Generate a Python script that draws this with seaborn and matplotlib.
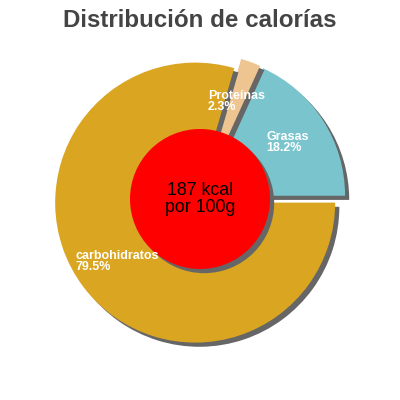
import matplotlib
matplotlib.use("Agg")
import matplotlib.pyplot as plt
import matplotlib.patheffects as pe
from matplotlib.patches import Circle
import seaborn as sns

categories = ["Grasas", "Proteínas", "carbohidratos"]
values = [18.2, 2.3, 79.5]
colors = ["#7AC5CD", "#EEC591", "#DAA520"]
title = "Distribución de calorías"
center_label = "187 kcal\npor 100g"

sns.set_theme(style="white")
plt.rcParams["font.family"] = ["Liberation Sans", "DejaVu Sans"]

fig = plt.figure(figsize=(4, 4), dpi=100)
ax = fig.add_axes([0, 0, 1, 1])
ax.set_aspect("equal")
ax.axis("off")

shadow = [pe.SimplePatchShadow(offset=(3, -3), shadow_rgbFace="#666666", alpha=1.0), pe.Normal()]

labels = [f"{c}\n{v}%" for c, v in zip(categories, values)]
wedges, texts = ax.pie(values, labels=labels, colors=colors, startangle=0,
                       counterclock=True, explode=[0.043] * 3, radius=1.0,
                       labeldistance=0.7, wedgeprops=dict(linewidth=0))
for w in wedges:
    w.set_path_effects(shadow)
for t in texts:
    t.set_ha("center")
    t.set_va("center")
    t.set_multialignment("left")
    t.set_color("white")
    t.set_fontsize(9)
    t.set_fontweight("bold")
    t.set_linespacing(0.95)
    t.set_zorder(5)

c = Circle((0, 0), 0.5, facecolor="#FF0000", edgecolor="none", zorder=4)
c.set_path_effects(shadow)
ax.add_patch(c)
ax.text(0, 0, center_label, ha="center", va="center", fontsize=12.8,
        color="black", zorder=6, linespacing=1.0)

ax.set_xlim(-200 / 140, 200 / 140)
ax.set_ylim(-201 / 140, 199 / 140)

fig.text(0.5, 0.948, title, ha="center", va="center", fontsize=17.4,
         fontweight="bold", color="#444444")

fig.savefig("out.png", dpi=100, facecolor="white")
